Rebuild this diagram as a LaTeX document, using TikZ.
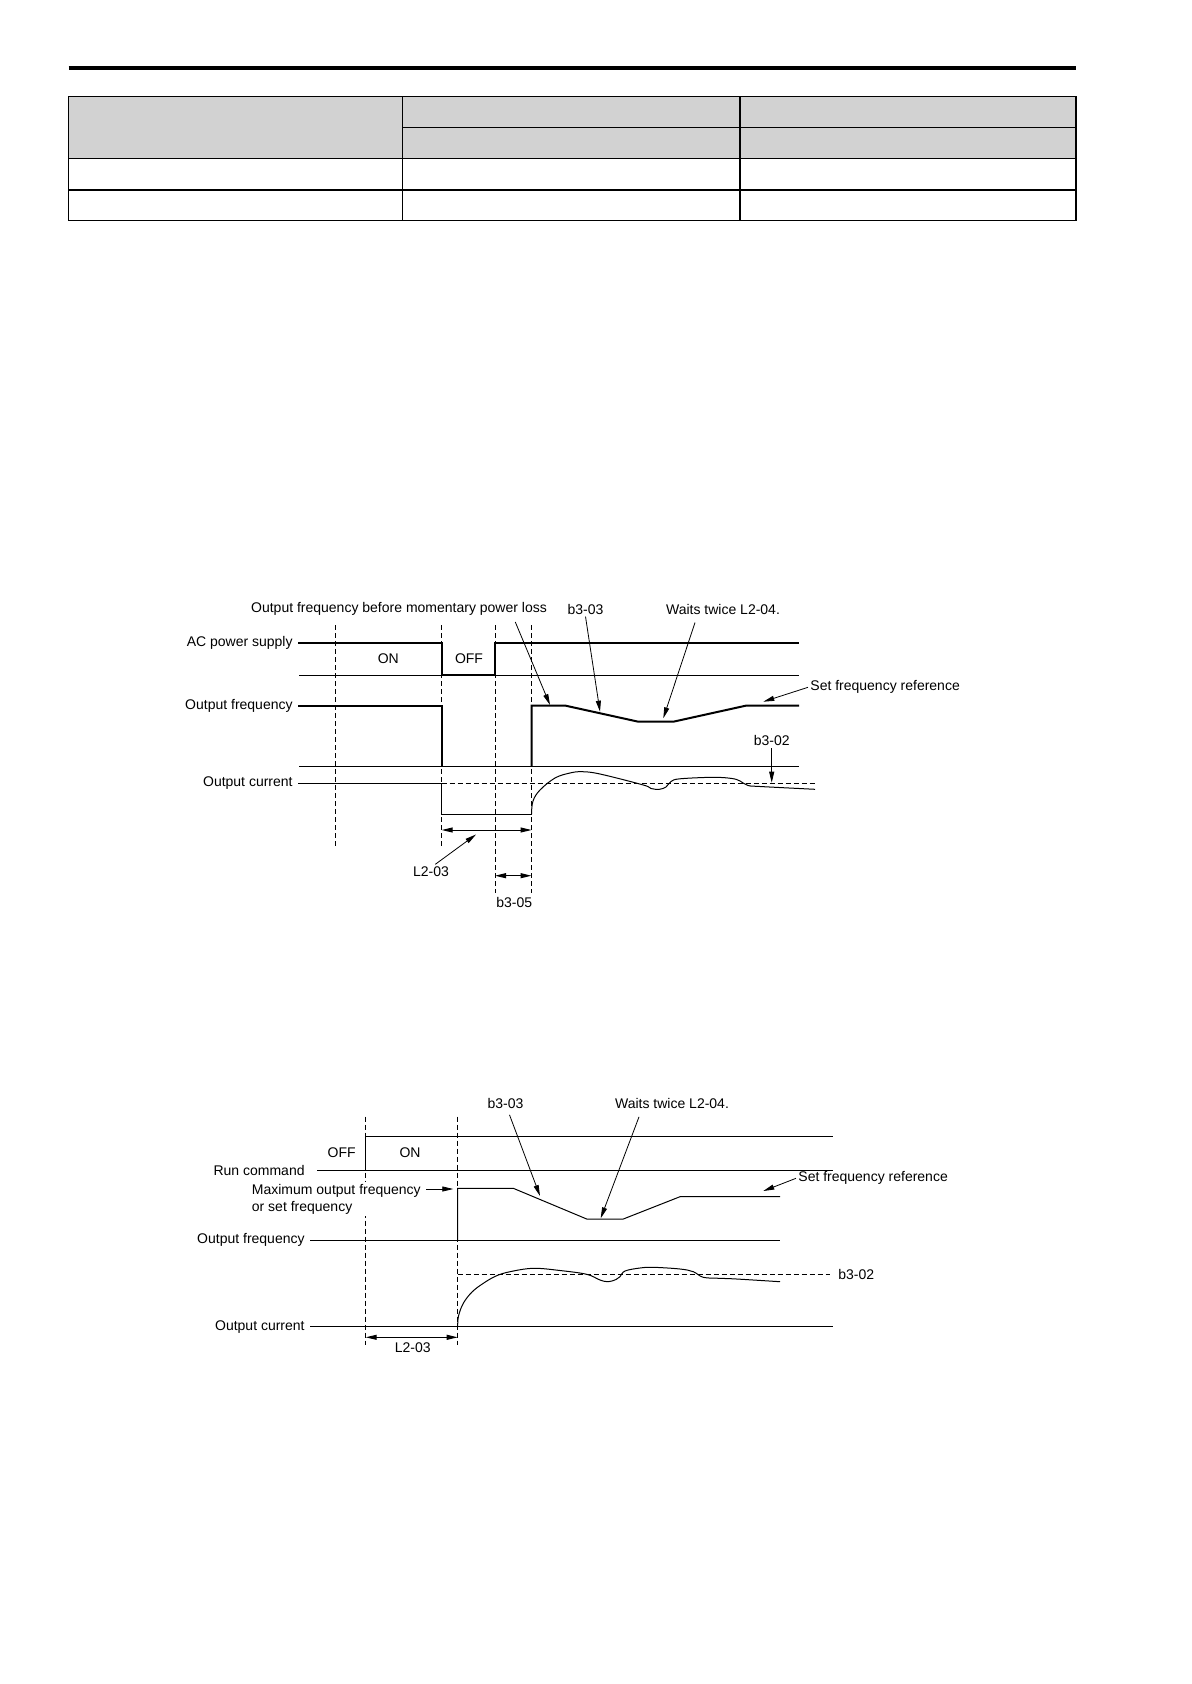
\documentclass[tikz,border=0pt]{standalone}
\usepackage{fontspec}
\setmainfont{Liberation Sans}
\usetikzlibrary{arrows.meta,positioning}

\begin{document}
\begin{tikzpicture}[x=0.5pt, y=-0.5pt,
    every node/.style={font=\fontsize{7}{8.4}\selectfont, inner sep=1pt},
    lbl/.style={anchor=east},
    sig/.style={line width=1pt},
    rail/.style={line width=0.5pt},
    tbl/.style={line width=0.6pt},
    guide/.style={line width=0.5pt, dash pattern=on 2.5pt off 1.5pt},
    ptr/.style={-{Triangle[length=5.5pt,width=2.5pt]}, line width=0.4pt},
    dimline/.style={{Triangle[length=5.5pt,width=2.5pt]}-{Triangle[length=5.5pt,width=2.5pt]}, line width=0.5pt}
  ]
    \useasboundingbox (0,0) rectangle (1191,1684);

    % page rule and empty table
    \draw[line width=2pt] (68.7,67.7) -- (1076,67.7);
    \fill[gray!35] (68.7,96.7) rectangle (1076,158.9);
    \draw[tbl] (68.7,96.7) rectangle (1076,220.2);
    \draw[tbl] (402.7,127.8) -- (1076,127.8);
    \foreach \y in {158.9,190.1}
      \draw[tbl] (68.7,\y) -- (1076,\y);
    \foreach \x in {402.7,739.9}
      \draw[tbl] (\x,96.7) -- (\x,220.2);

    % ---- momentary power loss ----
    \node[lbl] (acLbl) at (295,643.3) {AC power supply};
    \node[lbl] (frqLbl) at (295,705.7) {Output frequency};
    \node[lbl] (curLbl) at (295,783.3) {Output current};
    \node (onA) at (388.3,659) {ON};
    \node (offA) at (469,659) {OFF};

    \foreach \x/\e in {335.7/846.7, 441.7/846.7, 495/893, 531.5/893}
      \draw[guide] (\x,625) -- (\x,\e);

    \draw[sig] ([xshift=1.5pt]acLbl.east) -- (441.7,643.3) -- (441.7,675) -- (495,675) -- (495,643.3) -- (799,643.3);
    \draw[rail] (299,675) -- (799,675);
    \draw[sig] ([xshift=1.5pt]frqLbl.east) -- (441.7,705.7) -- (441.7,766.7);
    \draw[sig] (531.5,766.7) -- (531.5,705.7) -- (565.7,705.7) -- (638.3,721.7)
      -- (673.3,721.7) -- (745.7,705.7) -- (799,705.7);
    \draw[rail] (299,766.7) -- (799,766.7);
    \draw[rail] ([xshift=1.5pt]curLbl.east) -- (441.7,783.3) -- (441.7,814) -- (531.5,814);
    \draw[rail] plot[smooth, tension=0.6] coordinates {(531.5,814) (533,801) (540,790)
      (555,778) (570,773) (582,771.7) (600,774) (643.3,785) (651,788.5) (659.3,789.3)
      (666,787) (671,781.5) (680,778.8) (713.3,777.3) (732,778.5) (740,781)
      (748,785.5) (760,786.5) (815,789.3)};
    \draw[guide] (441.7,783.3) -- (815,783.3);

    \coordinate (l23a) at (441.7,830);
    \coordinate (l23b) at (531.5,830);
    \coordinate (b35a) at (495,875.7);
    \coordinate (b35b) at (531.5,875.7);
    \draw[dimline] (l23a) -- (l23b);
    \draw[dimline] (b35a) -- (b35b);
    \node (l23Lbl) at (431,871.7) {L2-03};
    \node (b35Lbl) at (514.3,902.3) {b3-05};

    \node (pwrLbl) at (399,609) {Output frequency before momentary power loss};
    \node (b33Lbl) at (585.5,609) {b3-03};
    \node (waitLbl) at (723,609) {Waits twice L2-04.};
    \node[anchor=west] (setLbl) at (808,687.3) {Set frequency reference};
    \node (b32Lbl) at (771.7,740.7) {b3-02};

    \coordinate (pwrTip) at (550,705);
    \coordinate (b33Tip) at (600,711.7);
    \coordinate (waitTip) at (663.3,718.3);
    \coordinate (setTip) at (763.3,701.7);
    \coordinate (b32Tip) at (771.7,782.7);
    \coordinate (l23Tip) at (476,834.5);

    \draw[ptr] ([xshift=-17pt,yshift=-2pt]pwrLbl.south east) -- (pwrTip);
    \draw[ptr] ([xshift=-14pt,yshift=-3pt]waitLbl.south) -- (waitTip);
    \draw[ptr] (l23Lbl.60) -- (l23Tip);
    \foreach \a/\b in {b33Lbl.south/b33Tip, setLbl.west/setTip, b32Lbl.south/b32Tip}
      \draw[ptr] (\a) -- (\b);

    % ---- speed search at start ----
    \node[lbl] (runLbl) at (307,1170) {Run command};
    \node[lbl] (frq2Lbl) at (307,1240) {Output frequency};
    \node[lbl] (cur2Lbl) at (307,1326.7) {Output current};
    \node (offB) at (341.7,1152.7) {OFF};
    \node (onB) at (410,1152.7) {ON};

    \foreach \x in {365.7, 457.7}
      \draw[guide] (\x,1116.7) -- (\x,1345);

    \node[anchor=north west, align=left, fill=white] (maxLbl) at (249.5,1182)
      {Maximum output frequency\\or set frequency};

    \draw[rail] (365.7,1170) -- (365.7,1136.7) -- (833.3,1136.7);
    \draw[rail] ([xshift=5pt]runLbl.east) -- (833.3,1170);
    \draw[rail] ([xshift=1.5pt]frq2Lbl.east) -- (780,1240);
    \draw[rail] (457.7,1240) -- (457.7,1188.3) -- (513.3,1188.3) -- (586.7,1219)
      -- (623.3,1219) -- (680,1196.7) -- (780,1196.7);
    \draw[guide] (457.7,1274) -- (830,1274);
    \draw[rail] ([xshift=1.5pt]cur2Lbl.east) -- (833.3,1326.7);
    \draw[rail] plot[smooth, tension=0.6] coordinates {(457.7,1326.7) (458.5,1316)
      (463.3,1303.3) (472,1292) (483.3,1283.3) (496,1276) (510,1271.7) (533.3,1268.3)
      (560,1270.5) (586.7,1274.3) (600,1280) (608.3,1281.7) (616,1279.5) (620,1276.7)
      (625,1271) (640,1268) (653.3,1267.3) (680,1269) (693.3,1271.7) (703.3,1277.3)
      (720,1278.3) (736.7,1279) (780,1281.7)};

    \coordinate (l23c) at (365.7,1337.3);
    \coordinate (l23d) at (457.7,1337.3);
    \draw[dimline] (l23c) -- (l23d);
    \node (l232Lbl) at (412.7,1348) {L2-03};

    \node (b332Lbl) at (505.5,1103.3) {b3-03};
    \node (wait2Lbl) at (672,1103.3) {Waits twice L2-04.};
    \node[anchor=west] (set2Lbl) at (796,1178.3) {Set frequency reference};
    \node[anchor=west] (b322Lbl) at (836,1274) {b3-02};

    \coordinate (maxTip) at (453.3,1189);
    \coordinate (b332Tip) at (540,1196);
    \coordinate (wait2Tip) at (600.7,1218.3);
    \coordinate (set2Tip) at (763.3,1191);

    \draw[ptr] ([xshift=1.5pt,yshift=-3.5pt]maxLbl.north east) -- (maxTip);
    \draw[ptr] ([xshift=2pt,yshift=-2pt]b332Lbl.south) -- (b332Tip);
    \draw[ptr] ([xshift=-16.5pt,yshift=-3pt]wait2Lbl.south) -- (wait2Tip);
    \draw[ptr] (set2Lbl.west) -- (set2Tip);
  \end{tikzpicture}
\end{document}
